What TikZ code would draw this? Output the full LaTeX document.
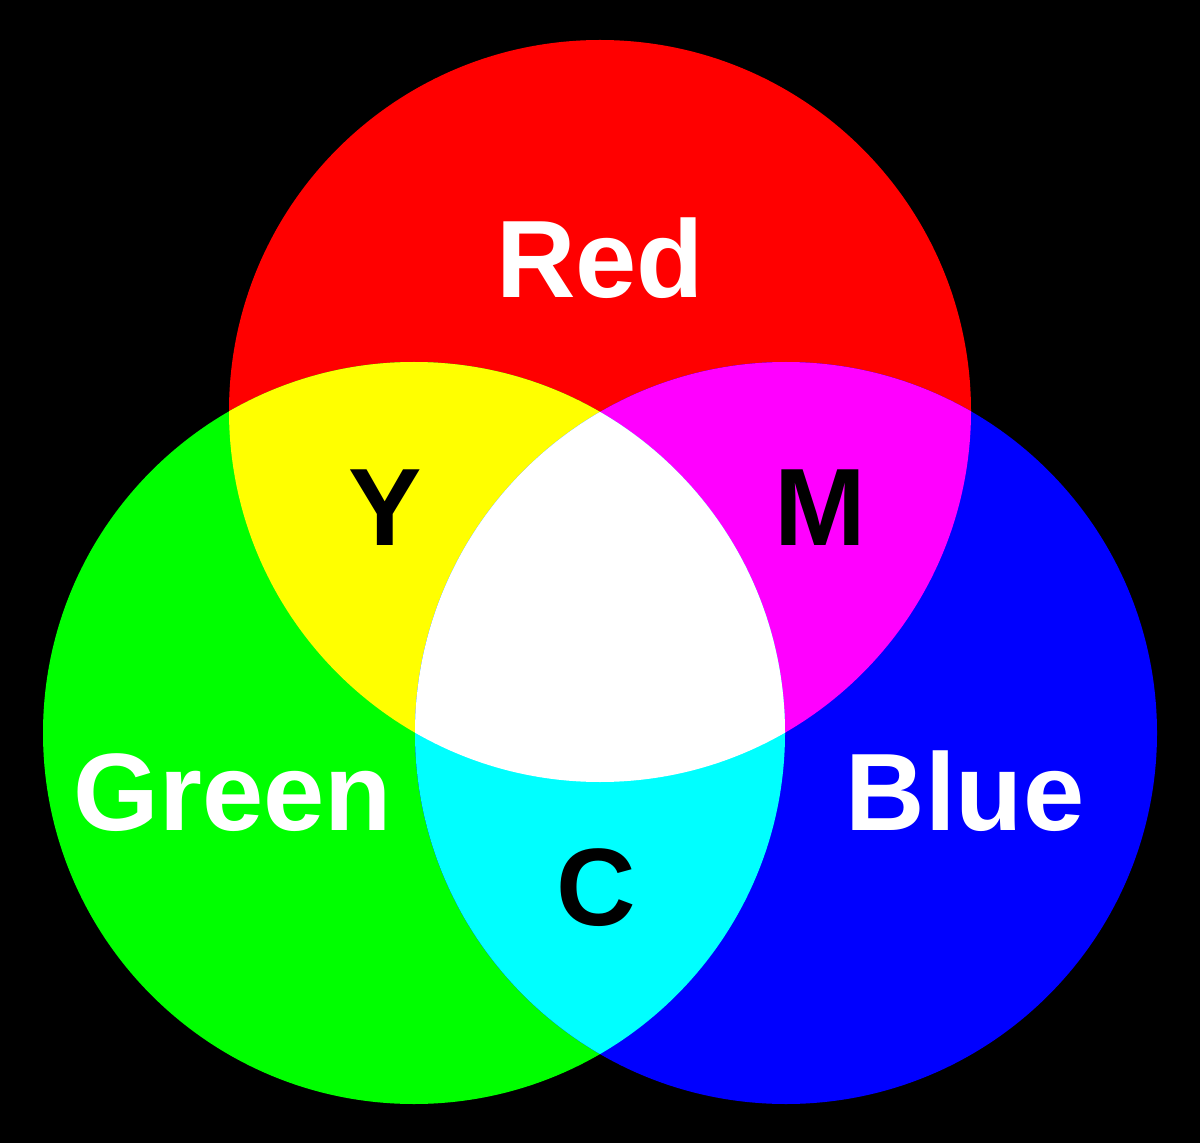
\documentclass[tikz,border=0pt]{standalone}
\usepackage{fontspec}
\setmainfont{Liberation Sans}
\begin{document}
\begin{tikzpicture}[x=0.01cm,y=-0.01cm,
  lbl/.style={anchor=base,inner sep=0pt,font=\fontsize{31.3}{36}\selectfont\bfseries},
  white lbl/.style={lbl,text=white},
  black lbl/.style={lbl,text=black}]
\definecolor{rr}{RGB}{255,0,0}
\definecolor{gg}{RGB}{0,255,0}
\definecolor{bb}{RGB}{0,0,255}
\definecolor{yy}{RGB}{255,255,0}
\definecolor{mm}{RGB}{255,0,255}
\definecolor{cc}{RGB}{0,255,255}
\fill[black] (0,0) rectangle (1200,1143);
\useasboundingbox (0,0) rectangle (1200,1143);
\def\R{371}
\coordinate (cr) at (600,411);
\coordinate (cg) at (414,733);
\coordinate (cb) at (786,733);
\fill[rr] (cr) circle[radius=\R];
\fill[gg] (cg) circle[radius=\R];
\fill[bb] (cb) circle[radius=\R];
\begin{scope}
  \clip (cr) circle[radius=\R];
  \fill[yy] (cg) circle[radius=\R];
  \fill[mm] (cb) circle[radius=\R];
\end{scope}
\begin{scope}
  \clip (cg) circle[radius=\R];
  \fill[cc] (cb) circle[radius=\R];
\end{scope}
\begin{scope}
  \clip (cr) circle[radius=\R];
  \clip (cg) circle[radius=\R];
  \fill[white] (cb) circle[radius=\R];
\end{scope}
\node[white lbl] (red) at (600,298) {Red};
\node[white lbl] (green) at (233,830) {Green};
\node[white lbl] (blue) at (965,830) {Blue};
\node[black lbl] (y) at (385,545) {Y};
\node[black lbl] (m) at (820,545) {M};
\node[black lbl] (c) at (596,925) {C};
\end{tikzpicture}
\end{document}
